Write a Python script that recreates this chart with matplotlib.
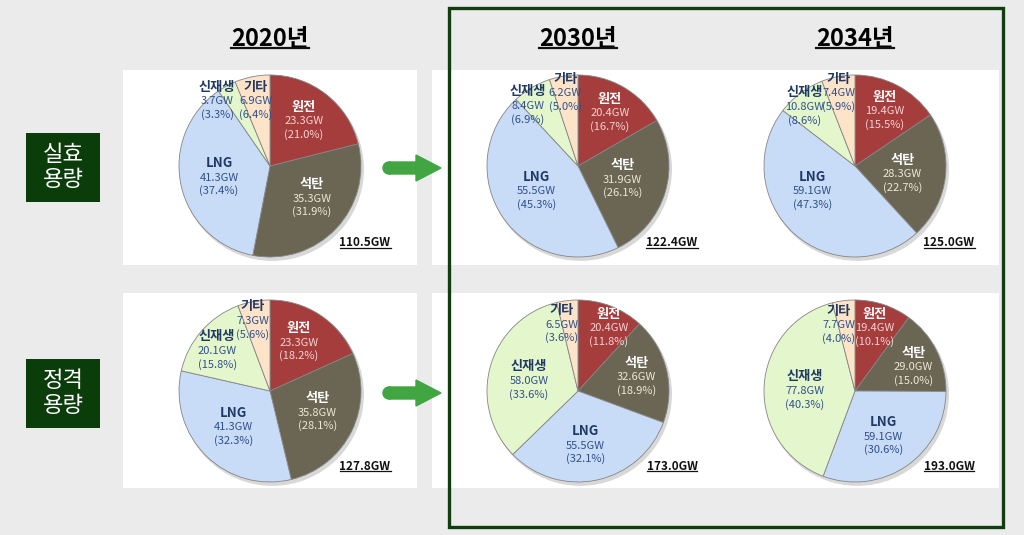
import matplotlib
matplotlib.use('Agg')
import matplotlib.pyplot as plt
from matplotlib.patches import Rectangle, FancyArrow, Circle
from matplotlib.lines import Line2D
from matplotlib.transforms import IdentityTransform

plt.rcParams['font.family'] = ['Noto Sans CJK KR', 'DejaVu Sans']

W, H = 1024, 535

# 데이터
categories = ['원전', '석탄', 'LNG', '신재생', '기타']
years = ['2020년', '2030년', '2034년']
row_names = ['실효\n용량', '정격\n용량']

eff_gw = [[23.3, 35.3, 41.3, 3.7, 6.9],
          [20.4, 31.9, 55.5, 8.4, 6.2],
          [19.4, 28.3, 59.1, 10.8, 7.4]]
eff_pct = [[21.0, 31.9, 37.4, 3.3, 6.4],
           [16.7, 26.1, 45.3, 6.9, 5.0],
           [15.5, 22.7, 47.3, 8.6, 5.9]]
eff_total = [110.5, 122.4, 125.0]

rated_gw = [[23.3, 35.8, 41.3, 20.1, 7.3],
            [20.4, 32.6, 55.5, 58.0, 6.5],
            [19.4, 29.0, 59.1, 77.8, 7.7]]
rated_pct = [[18.2, 28.1, 32.3, 15.8, 5.6],
             [11.8, 18.9, 32.1, 33.6, 3.6],
             [10.1, 15.0, 30.6, 40.3, 4.0]]
rated_total = [127.8, 173.0, 193.0]

gw_rows = [eff_gw, rated_gw]
pct_rows = [eff_pct, rated_pct]
total_rows = [eff_total, rated_total]

# 스타일
colors = ['#a53d3d', '#6b6654', '#c9dcf7', '#e4f7cc', '#fde3c8']
name_colors = ['white', 'white', '#1f3864', '#1f3864', '#1f3864']
value_colors = ['#f6d2d2', '#ece6d6', '#30508a', '#30508a', '#30508a']

# 배치 (픽셀)
pie_cx = [270, 578, 855]
pie_cy = [166, 391]
pie_r = 91
total_x = [365, 672, 949]
total_y = [243, 466]

# 라벨 위치 (반지름 단위, 가운데 줄 기준)
label_pos = [
    [[(0.37, 0.49), (0.46, -0.36), (-0.56, -0.13), (-0.58, 0.71), (-0.16, 0.71)],
     [(0.35, 0.58), (0.49, -0.15), (-0.46, -0.28), (-0.55, 0.66), (-0.14, 0.80)],
     [(0.33, 0.60), (0.52, -0.09), (-0.47, -0.28), (-0.55, 0.65), (-0.18, 0.80)]],
    [[(0.32, 0.53), (0.52, -0.24), (-0.40, -0.40), (-0.58, 0.44), (-0.19, 0.77)],
     [(0.34, 0.69), (0.64, 0.15), (0.08, -0.60), (-0.54, 0.11), (-0.18, 0.73)],
     [(0.22, 0.69), (0.64, 0.26), (0.31, -0.50), (-0.55, 0.0), (-0.18, 0.72)]],
]

fig = plt.figure(figsize=(W / 100, H / 100), dpi=100, facecolor='#ebebeb')

bg = fig.add_axes([0, 0, 1, 1])
bg.set_xlim(0, W)
bg.set_ylim(H, 0)
bg.axis('off')

# 흰 패널
for top in [70, 293]:
    bg.add_patch(Rectangle((123, top), 294, 195, facecolor='white', edgecolor='none'))
    bg.add_patch(Rectangle((432, top), 567, 195, facecolor='white', edgecolor='none'))

# 초록 테두리
bg.add_patch(Rectangle((449, 8), 554, 519, facecolor='none', edgecolor='#113d11', linewidth=2.4))

# 행 이름 상자
for i, top in enumerate([133, 359]):
    bg.add_patch(Rectangle((26, top), 74, 69, facecolor='#0b3d0b', edgecolor='none'))
    bg.text(63, top + 34, row_names[i], color='white', fontsize=16, ha='center', va='center',
            linespacing=1.15)

# 화살표
for cy in [168, 393]:
    bg.add_patch(Circle((389, cy), 6, color='#41a641'))
    bg.add_patch(FancyArrow(389, cy, 52, 0, width=12, head_width=26, head_length=25,
                            length_includes_head=True, color='#41a641'))

underlined = []

# 연도 제목
for j, yr in enumerate(years):
    t = bg.text(pie_cx[j], 39, yr, fontsize=17, fontweight='bold', ha='center', va='center')
    underlined.append(t)

# 원그래프
pad = 1.2
for i in range(2):
    for j in range(3):
        cx, cy = pie_cx[j], pie_cy[i]
        ax = fig.add_axes([(cx - pie_r * pad) / W, (H - cy - pie_r * pad) / H,
                           2 * pie_r * pad / W, 2 * pie_r * pad / H])
        ax.add_patch(Circle((0.025, -0.035), 1.0, color='#d8d8d8', zorder=0))
        ax.pie(gw_rows[i][j], colors=colors, startangle=90, counterclock=False,
               wedgeprops={'edgecolor': '#858585', 'linewidth': 0.6})
        ax.set_xlim(-pad, pad)
        ax.set_ylim(-pad, pad)
        ax.axis('off')
        for k, cat in enumerate(categories):
            dx, dy = label_pos[i][j][k]
            ax.annotate(cat, (dx, dy), xytext=(0, 10.5), textcoords='offset points',
                        fontsize=9.5, fontweight='bold', color=name_colors[k],
                        ha='center', va='center')
            ax.annotate(f'{gw_rows[i][j][k]:.1f}GW', (dx, dy), fontsize=8,
                        color=value_colors[k], ha='center', va='center')
            ax.annotate(f'({pct_rows[i][j][k]:.1f}%)', (dx, dy), xytext=(0, -9.5),
                        textcoords='offset points', fontsize=8,
                        color=value_colors[k], ha='center', va='center')

# 합계
for i in range(2):
    for j in range(3):
        t = bg.text(total_x[j], total_y[i], f'{total_rows[i][j]:.1f}GW', fontsize=8.5,
                    fontweight='bold', ha='center', va='center', color='#111111')
        underlined.append(t)

# 밑줄
fig.canvas.draw()
renderer = fig.canvas.get_renderer()
for t in underlined:
    bb = t.get_window_extent(renderer)
    lw = 1.6 if t.get_fontsize() > 12 else 0.9
    y = bb.y0 + bb.height * 0.12
    fig.add_artist(Line2D([bb.x0, bb.x1], [y, y], transform=IdentityTransform(),
                          color='#111111', linewidth=lw))

fig.savefig('out.png', dpi=100, facecolor=fig.get_facecolor())
